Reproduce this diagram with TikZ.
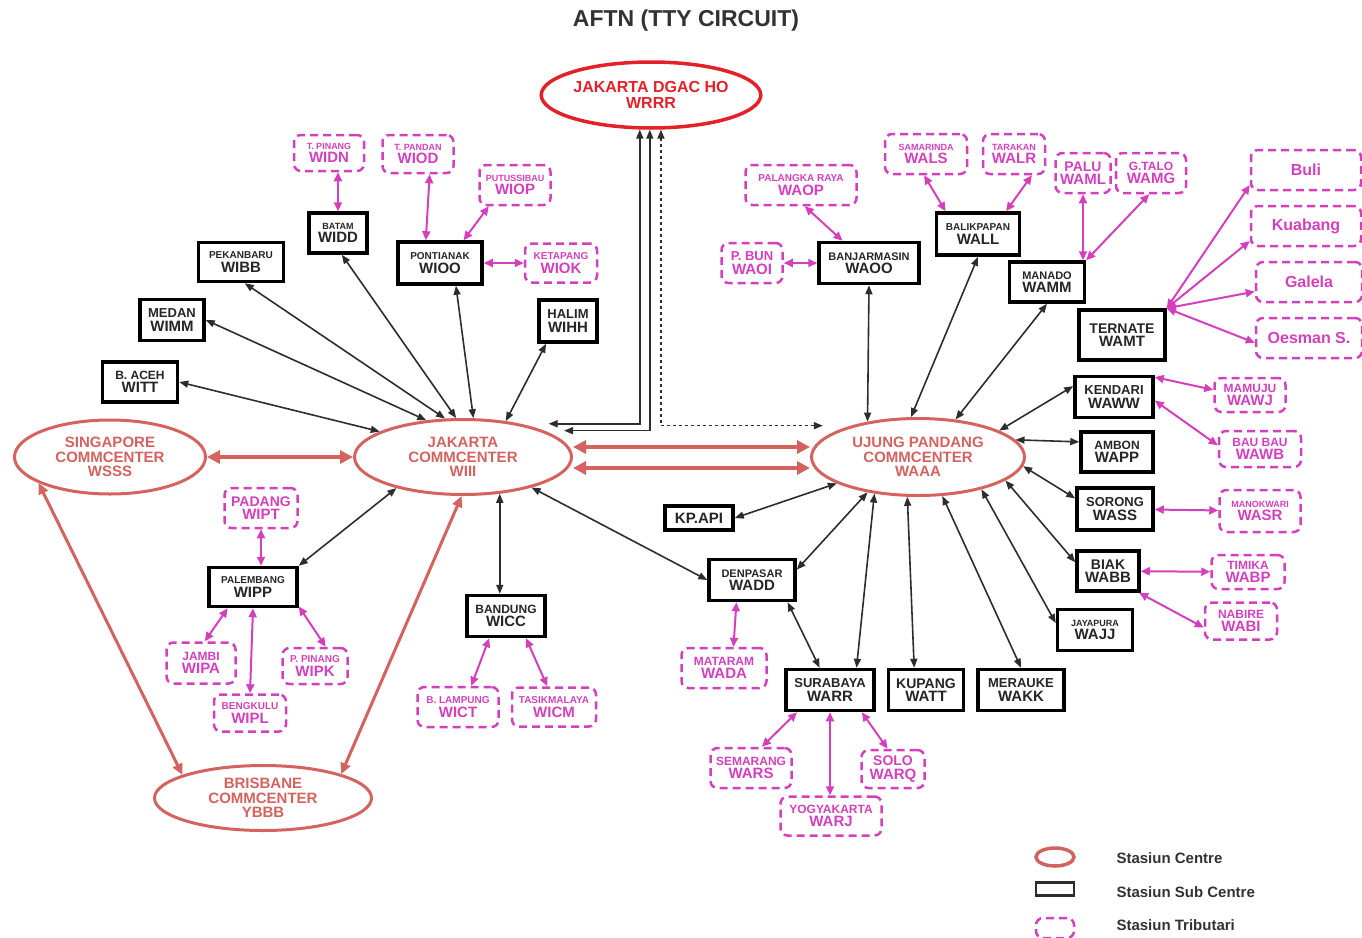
\documentclass[tikz,border=0pt]{standalone}
\usepackage{fontspec}
\setmainfont{Liberation Sans}
\usetikzlibrary{arrows.meta,shapes.geometric}
\definecolor{cen}{RGB}{212,98,94}
\definecolor{dgac}{RGB}{228,32,40}
\definecolor{mag}{RGB}{212,64,188}
\definecolor{blk}{RGB}{45,45,45}
\definecolor{ttl}{RGB}{50,50,50}
\newcommand\two[3][10]{{\fontsize{#1}{#1}\selectfont #2}\\#3}
\begin{document}
\begin{tikzpicture}[x=1pt,y=-1pt,
  sz/.style 2 args={minimum width=#1, minimum height=#2},
  centre/.style={ellipse, draw=cen, line width=3pt, text=cen, align=center, inner sep=0pt,
    font=\fontsize{15}{14.5}\selectfont\bfseries},
  sub/.style={rectangle, draw=black, line width=3.5pt, fill=white, align=center, inner sep=1pt,
    text=black!85, font=\fontsize{15}{13.5}\selectfont\bfseries},
  trib/.style={rectangle, rounded corners=7pt, draw=mag, line width=2.5pt,
    dash pattern=on 8pt off 5pt, align=center, inner sep=1pt, text=mag,
    font=\fontsize{15}{13.5}\selectfont\bfseries},
  ba/.style={draw=blk, line width=1.6pt, {Triangle[length=9pt,width=7pt]}-{Triangle[length=9pt,width=7pt]}},
  ma/.style={draw=mag, line width=2pt, {Triangle[length=9pt,width=8pt]}-{Triangle[length=9pt,width=8pt]}},
  ca/.style={draw=cen, line width=4pt, {Triangle[length=13pt,width=13pt]}-{Triangle[length=13pt,width=13pt]}},
  cb/.style={draw=cen, line width=3pt, {Triangle[length=11pt,width=10pt]}-{Triangle[length=11pt,width=10pt]}},
  lgtext/.style={anchor=west, text=ttl, font=\fontsize{15}{15}\selectfont\bfseries}
]
\path[use as bounding box] (0,0) rectangle (1362,937);

\node[text=ttl, font=\fontsize{23}{23}\selectfont\bfseries] (title) at (686,21) {AFTN (TTY CIRCUIT)};

% centres
\node[centre, draw=dgac, text=dgac, line width=3.5pt, sz={213}{66}, font=\fontsize{16}{16}\selectfont\bfseries] (WRRR) at (651,95) {JAKARTA DGAC HO\\WRRR};
\node[centre, sz={191}{74}] (WSSS) at (110,457) {SINGAPORE\\COMMCENTER\\WSSS};
\node[centre, sz={217}{75}] (WIII) at (463,457) {JAKARTA\\COMMCENTER\\WIII};
\node[centre, sz={213}{77}] (WAAA) at (918,457) {UJUNG PANDANG\\COMMCENTER\\WAAA};
\node[centre, sz={217}{65}] (YBBB) at (263,798) {BRISBANE\\COMMCENTER\\YBBB};

% sub centres
\node[sub, sz={58}{40}] (WIDD) at (338,233) {\two[9]{BATAM}{WIDD}};
\node[sub, sz={85}{39}] (WIBB) at (241,262) {\two{PEKANBARU}{WIBB}};
\node[sub, sz={64}{41}] (WIMM) at (172,320) {\two[13]{MEDAN}{WIMM}};
\node[sub, sz={75}{40}] (WITT) at (140,382) {\two[12]{B. ACEH}{WITT}};
\node[sub, sz={84}{42}] (WIOO) at (440,263) {\two{PONTIANAK}{WIOO}};
\node[sub, sz={58}{42}] (WIHH) at (568,321) {\two[13]{HALIM}{WIHH}};
\node[sub, sz={100}{41}] (WAOO) at (869,263) {\two[11]{BANJARMASIN}{WAOO}};
\node[sub, sz={83}{42}] (WALL) at (978,234) {\two{BALIKPAPAN}{WALL}};
\node[sub, sz={75}{40}] (WAMM) at (1047,282) {\two[11]{MANADO}{WAMM}};
\node[sub, sz={86}{50}] (WAMT) at (1122,335) {\two[14]{TERNATE}{WAMT}};
\node[sub, sz={78}{41}] (WAWW) at (1114,397) {\two[13]{KENDARI}{WAWW}};
\node[sub, sz={72}{40}] (WAPP) at (1117,452) {\two[12]{AMBON}{WAPP}};
\node[sub, sz={76}{42}] (WASS) at (1115,509) {\two[13]{SORONG}{WASS}};
\node[sub, sz={62}{40}] (WABB) at (1108,571) {\two[14]{BIAK}{WABB}};
\node[sub, sz={75}{41}] (WAJJ) at (1095,630) {\two[9]{JAYAPURA}{WAJJ}};
\node[sub, sz={68}{24}] (KPAPI) at (699,518) {KP.API};
\node[sub, sz={86}{41}] (WADD) at (752,580) {\two[11]{DENPASAR}{WADD}};
\node[sub, sz={88}{41}] (WARR) at (830,690) {\two[13]{SURABAYA}{WARR}};
\node[sub, sz={75}{41}] (WATT) at (926,690) {\two[14]{KUPANG}{WATT}};
\node[sub, sz={86}{41}] (WAKK) at (1021,690) {\two[13]{MERAUKE}{WAKK}};
\node[sub, sz={78}{41}] (WICC) at (506,616) {\two[12]{BANDUNG}{WICC}};
\node[sub, sz={88}{39}] (WIPP) at (253,587) {\two{PALEMBANG}{WIPP}};

% tributaries
\node[trib, sz={70}{36}] (WIDN) at (329,153) {\two[9]{T. PINANG}{WIDN}};
\node[trib, sz={71}{38}] (WIOD) at (418,154) {\two[9]{T. PANDAN}{WIOD}};
\node[trib, sz={71}{40}] (WIOP) at (515,185) {\two[9]{PUTUSSIBAU}{WIOP}};
\node[trib, sz={72}{39}] (WIOK) at (561,263) {\two{KETAPANG}{WIOK}};
\node[trib, sz={111}{40}] (WAOP) at (801,185) {\two{PALANGKA RAYA}{WAOP}};
\node[trib, sz={61}{40}] (WAOI) at (752,263) {\two[13]{P. BUN}{WAOI}};
\node[trib, sz={82}{40}] (WALS) at (926,154) {\two[9]{SAMARINDA}{WALS}};
\node[trib, sz={62}{40}] (WALR) at (1014,154) {\two[9]{TARAKAN}{WALR}};
\node[trib, sz={55}{40}] (WAML) at (1083,173) {\two[14]{PALU}{WAML}};
\node[trib, sz={70}{40}] (WAMG) at (1151,173) {\two[12]{G.TALO}{WAMG}};
\node[trib, sz={110}{40}, font=\fontsize{16}{16}\selectfont\bfseries] (Buli) at (1306,170) {Buli};
\node[trib, sz={110}{40}, font=\fontsize{16}{16}\selectfont\bfseries] (Kuabang) at (1306,226) {Kuabang};
\node[trib, sz={106}{40}, font=\fontsize{16}{16}\selectfont\bfseries] (Galela) at (1309,282) {Galela};
\node[trib, sz={106}{40}, font=\fontsize{16}{16}\selectfont\bfseries] (Oesman) at (1309,338) {Oesman S.};
\node[trib, sz={71}{34}] (WAWJ) at (1250,395) {\two[12]{MAMUJU}{WAWJ}};
\node[trib, sz={82}{36}] (WAWB) at (1260,449) {\two[12]{BAU BAU}{WAWB}};
\node[trib, sz={81}{42}] (WASR) at (1260,511) {\two[9]{MANOKWARI}{WASR}};
\node[trib, sz={73}{34}] (WABP) at (1248,572) {\two[12]{TIMIKA}{WABP}};
\node[trib, sz={72}{37}] (WABI) at (1241,621) {\two[12]{NABIRE}{WABI}};
\node[trib, sz={85}{40}] (WADA) at (724,668) {\two[12]{MATARAM}{WADA}};
\node[trib, sz={81}{40}] (WARS) at (751,768) {\two[12]{SEMARANG}{WARS}};
\node[trib, sz={63}{38}] (WARQ) at (893,769) {\two[14]{SOLO}{WARQ}};
\node[trib, sz={101}{39}] (WARJ) at (831,816) {\two[12]{YOGYAKARTA}{WARJ}};
\node[trib, sz={81}{40}] (WICT) at (458,707) {\two{B. LAMPUNG}{WICT}};
\node[trib, sz={84}{39}] (WICM) at (554,707) {\two{TASIKMALAYA}{WICM}};
\node[trib, sz={73}{40}] (WIPT) at (261,508) {\two[14]{PADANG}{WIPT}};
\node[trib, sz={69}{41}] (WIPA) at (201,663) {\two[12]{JAMBI}{WIPA}};
\node[trib, sz={65}{36}] (WIPK) at (315,666) {\two{P. PINANG}{WIPK}};
\node[trib, sz={72}{37}] (WIPL) at (250,713) {\two{BENGKULU}{WIPL}};

% centre links
\draw[ca] ([yshift=10pt]WIII.east) -- ([yshift=10pt]WAAA.west);
\draw[ca] ([yshift=-11pt]WIII.east) -- ([yshift=-11pt]WAAA.west);
\draw[ca] (WSSS) -- (WIII);
\draw[cb] (WSSS.200) -- (YBBB.164);
\draw[cb] (WIII.-92) -- (YBBB.17);

% DGAC links
\draw[ba, shorten >=28pt] (WRRR.-108) |- (WIII.30);
\draw[ba, shorten >=20pt] (WRRR.-92) |- (WIII.18);
\draw[ba, dash pattern=on 3pt off 3pt, shorten >=28pt] (WRRR.-74) |- (WAAA.155);

% WIII links
\draw[ba] (WITT.east) -- (WIII.163);
\draw[ba] (WIMM.east) -- (WIII.135);
\draw[ba] (WIBB.-80) -- (WIII.115);
\draw[ba] (WIDD.-80) -- (WIII.100);
\draw[ba] (WIOO.-55) -- (WIII.75);
\draw[ba] (WIHH.-134) -- (WIII.40);
\draw[ba] (WIPP.north east) -- (WIII.205);
\draw[ba] (WIII.-45) -- (WIII.-45 |- WICC.north);
\draw[ba] (WIII.-24) -- (WADD.west);

% WAAA links
\draw[ba] (WAOO.south) -- (WAAA.145);
\draw[ba] (WALL.south) -- (WAAA.100);
\draw[ba] (WAMM.south) -- (WAAA.45);
\draw[ba] (WAAA.18) -- (WAWW.165);
\draw[ba] (WAAA.10) -- (WAPP.165);
\draw[ba] (WAAA.-5) -- (WASS.165);
\draw[ba] (WAAA.-15) -- (WABB.165);
\draw[ba] (WAAA.-27) -- (WAJJ.170);
\draw[ba] (WAAA.-58) -- (WAKK.north);
\draw[ba] (WAAA.-105) -- (WATT.118);
\draw[ba] (WAAA.-140) -- (WARR.40);
\draw[ba] (WAAA.-145) -- (WADD.13);
\draw[ba] (WAAA.-162) -- (KPAPI.east);
\draw[ba] (WADD.-32) -- (WARR.115);

% tributary links
\draw[ma] (WIDD.north) -- (WIDD.north |- WIDN.south);
\draw[ma] (WIOD.-60) -- (WIOO.122);
\draw[ma] (WIOP.-141) -- (WIOO.44);
\draw[ma] (WIOO) -- (WIOK);
\draw[ma] (WAOP.-80) -- (WAOO.140);
\draw[ma] (WAOI) -- (WAOO);
\draw[ma] (WALS.-95) -- (WALL.145);
\draw[ma] (WALR.-50) -- (WALL.39);
\draw[ma] (WAML.south) -- (WAML.south |- WAMM.north);
\draw[ma] (WAMG.-95) -- (WAMM.29);
\draw[ma] (WAMT.north east) -- (Buli.195);
\draw[ma] (WAMT.north east) -- (Kuabang.195);
\draw[ma] (WAMT.north east) -- (Galela.190);
\draw[ma] (WAMT.north east) -- (Oesman.185);
\draw[ma] (WAWW.26) -- (WAWJ.172);
\draw[ma] (WAWW.-5) -- (WAWB.175);
\draw[ma] (WASS) -- (WASR);
\draw[ma] (WABB) -- (WABP);
\draw[ma] (WABB.-35) -- (WABI.190);
\draw[ma] (WIPT.south) -- (WIPT.south |- WIPP.north);
\draw[ma] (WIPP.-140) -- (WIPA.80);
\draw[ma] (WIPP.south) -- (WIPL.north);
\draw[ma] (WIPP.-23) -- (WIPK.61);
\draw[ma] (WICC.-127) -- (WICT.58);
\draw[ma] (WICC.-48) -- (WICM.108);
\draw[ma] (WADD.-125) -- (WADA.66);
\draw[ma] (WARR.-146) -- (WARS.63);
\draw[ma] (WARR.south) -- (WARR.south |- WARJ.north);
\draw[ma] (WARR.-35) -- (WARQ.105);

% legend
\node[ellipse, draw=cen, line width=3.5pt, sz={38}{18}, inner sep=0pt] (lgC) at (1055,857) {};
\node[rectangle, draw=blk, line width=2.5pt, sz={38}{13}] (lgS) at (1055,889) {};
\node[trib, sz={38}{20}] (lgT) at (1055,928) {};
\node[lgtext] (lgCt) at (1113,858) {Stasiun Centre};
\node[lgtext] (lgSt) at (1113,892) {Stasiun Sub Centre};
\node[lgtext] (lgTt) at (1113,925) {Stasiun Tributari};
\end{tikzpicture}
\end{document}
